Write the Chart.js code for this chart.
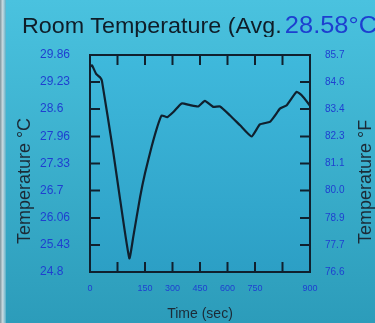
<!DOCTYPE html>
<html>
<head>
<meta charset="utf-8">
<script src="https://cdn.jsdelivr.net/npm/chart.js@4"></script>
<style>
  html, body { margin: 0; padding: 0; }
  body { width: 375px; height: 323px; overflow: hidden; background: linear-gradient(#4ac2df, #2c9cba); }
  #wrap { position: relative; width: 375px; height: 323px; }
  #edge { position: absolute; left: 0; top: 0; width: 6px; height: 323px;
          background: linear-gradient(to right, #7d949c, #c9dce2 45%, #5aaec6); }
  #title { position: absolute; left: 22px; top: 14px; width: 353px; overflow: hidden; white-space: nowrap; }
  #title div { transform: scaleX(1.06); transform-origin: left; 
               font: 22px "Liberation Sans", Arial, sans-serif; line-height: 22px; color: #0f1d28; }
  #title span { color: #1d3fd0; margin-left: 3px; font-size: 24px; }
  canvas { position: absolute; left: 0; top: 0; }
</style>
</head>
<body>
<div id="wrap">
  <canvas id="temp" width="375" height="323"></canvas>
  <div id="edge"></div>
  <div id="title"><div>Room Temperature (Avg.<span>28.58°C</span></div></div>
</div>
<script>
// readings, seconds / degrees C
var timeSec = [0, 8, 25, 41, 49, 95, 123, 161, 177, 205, 225, 252, 275, 293, 316, 341, 375, 409,
               443, 470, 504, 532, 573, 614, 661, 695, 736, 757, 777, 805, 845, 866, 900];
var tempC = [29.58, 29.62, 29.42, 29.34, 29.25, 27.6, 26.5, 25.12, 25.62, 26.55, 27.1, 27.72, 28.18, 28.45, 28.41, 28.53, 28.73, 28.69,
             28.66, 28.79, 28.65, 28.66, 28.45, 28.22, 27.96, 28.24, 28.3, 28.45, 28.61, 28.69, 29.0, 28.92, 28.68];

// axis ticks
var cTickValues = [24.8, 25.43, 26.06, 26.7, 27.33, 27.96, 28.6, 29.23, 29.86];
var cTickLabels = ['24.8', '25.43', '26.06', '26.7', '27.33', '27.96', '28.6', '29.23', '29.86'];
var fTickLabels = ['76.6', '77.7', '78.9', '80.0', '81.1', '82.3', '83.4', '84.6', '85.7'];
var xTickLabels = ['0', '', '150', '300', '450', '600', '750', '', '900'];

var points = timeSec.map(function(t, i) {return {x: t, y: tempC[i]}});

var tickBlue = '#1f3fd0';
var ink = '#10202e';

function setTicks(scale) {
  scale.ticks = cTickValues.map(function(v) {return {value: v}});
}

// frame with inward tick marks, and the two side titles
var framePlugin = {
  id: 'frame',
  beforeDatasetsDraw: function(chart) {
    var a = chart.chartArea, ctx = chart.ctx;
    var g = ctx.createLinearGradient(0, a.top, 0, a.bottom);
    g.addColorStop(0, '#3fb9dc');
    g.addColorStop(1, '#2c9fc5');
    ctx.save();
    ctx.fillStyle = g;
    ctx.fillRect(a.left, a.top, a.right - a.left, a.bottom - a.top);
    ctx.restore();
  },
  afterDraw: function(chart) {
    var a = chart.chartArea, ctx = chart.ctx;
    var sx = chart.scales.x, sy = chart.scales.y;
    ctx.save();
    ctx.strokeStyle = ink;
    ctx.lineWidth = 2;
    ctx.strokeRect(a.left, a.top, a.right - a.left, a.bottom - a.top);
    ctx.beginPath();
    sx.ticks.forEach(function(t, i) {
      if (i == 0 || i == sx.ticks.length - 1) return;
      var px = sx.getPixelForValue(t.value);
      ctx.moveTo(px, a.top); ctx.lineTo(px, a.top + 10);
      ctx.moveTo(px, a.bottom); ctx.lineTo(px, a.bottom - 10);
    });
    sy.ticks.forEach(function(t, i) {
      if (i == 0 || i == sy.ticks.length - 1) return;
      var py = sy.getPixelForValue(t.value);
      ctx.moveTo(a.left, py); ctx.lineTo(a.left + 10, py);
      ctx.moveTo(a.right, py); ctx.lineTo(a.right - 10, py);
    });
    ctx.stroke();

    ctx.fillStyle = '#1c2a36';
    ctx.font = '18px "Liberation Sans", Arial, sans-serif';
    ctx.textAlign = 'center';
    ctx.textBaseline = 'middle';
    ctx.translate(25, 181);
    ctx.rotate(-Math.PI / 2);
    ctx.fillText('Temperature °C', 0, 0);
    ctx.rotate(Math.PI / 2);
    ctx.translate(366 - 25, 1);
    ctx.rotate(-Math.PI / 2);
    ctx.fillText('Temperature °F', 0, 0);
    ctx.restore();
  }
};

Chart.defaults.font.family = '"Liberation Sans", Arial, sans-serif';
var chart = new Chart('temp', {
  type: 'line',
  data: {
    datasets: [{
      data: points,
      borderColor: ink,
      borderWidth: 2.2,
      pointRadius: 0,
      tension: 0.15,
      fill: false
    }]
  },
  options: {
    responsive: false,
    animation: false,
    layout: {padding: {top: 55, left: 40, right: 0, bottom: 0}},
    plugins: {legend: {display: false}, tooltip: {enabled: false}},
    scales: {
      x: {
        type: 'linear', min: 0, max: 900,
        afterFit: function(s) {s.height = 51},
        afterBuildTicks: function(s) {
          s.ticks = xTickLabels.map(function(l, i) {return {value: i * 112.5}});
        },
        grid: {display: false, drawTicks: false},
        border: {display: false},
        ticks: {
          color: tickBlue, font: {size: 9}, padding: 11, autoSkip: false, maxRotation: 0,
          callback: function(v, i) {return xTickLabels[i]}
        },
        title: {display: true, text: 'Time (sec)', color: '#1c2a36', font: {size: 14}, padding: {top: 4, bottom: 0}}
      },
      y: {
        position: 'left', min: 24.8, max: 29.86,
        afterFit: function(s) {s.width = 50},
        afterBuildTicks: setTicks,
        grid: {display: false, drawTicks: false},
        border: {display: false},
        ticks: {
          color: tickBlue, font: {size: 12}, crossAlign: 'far',
          callback: function(v, i) {return cTickLabels[i]}
        }
      },
      yF: {
        position: 'right', min: 24.8, max: 29.86,
        afterFit: function(s) {s.width = 65},
        afterBuildTicks: setTicks,
        grid: {display: false, drawTicks: false},
        border: {display: false},
        ticks: {
          color: tickBlue, font: {size: 10}, padding: 15,
          callback: function(v, i) {return fTickLabels[i]}
        }
      }
    }
  },
  plugins: [framePlugin]
});
</script>
</body>
</html>
